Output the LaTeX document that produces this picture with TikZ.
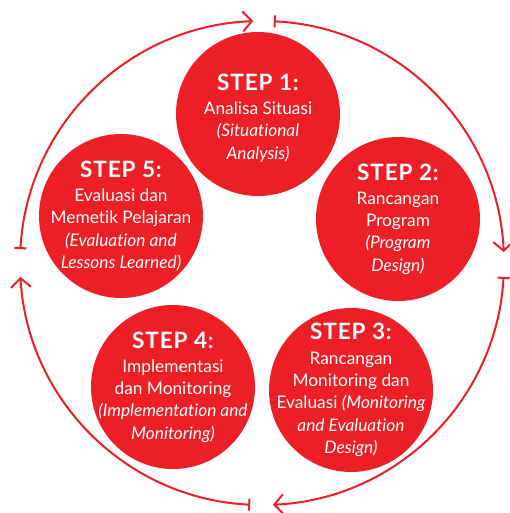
\documentclass[tikz,border=0pt]{standalone}
\usepackage{fontspec}
\setmainfont{Lato}[Ligatures=NoCommon]
\newfontfamily\headfont{Lato}[LetterSpace=4]
\usetikzlibrary{arrows.meta}
\definecolor{stepred}{RGB}{236,30,38}
\newcommand{\stephd}[1]{{\headfont\fontsize{22.5}{26}\selectfont\bfseries #1}\\[2pt]}
\begin{document}
\begin{tikzpicture}[x=1pt,y=-1pt,
  stepcircle/.style={circle,fill=stepred,minimum size=164pt,inner sep=0pt},
  steptext/.style={text=white,align=center,inner sep=0pt,font=\fontsize{17.3}{22.3}\selectfont},
  ring/.style={draw=stepred,line width=2pt,{Bar[width=12pt,line width=2pt]}-{Straight Barb[length=9pt,width=20pt,line width=2pt]}}]
\useasboundingbox (0,0) rectangle (510,513);
\coordinate (O) at (262,263);
\node[stepcircle,label={[steptext,yshift=-4pt]center:{\stephd{STEP 1:}Analisa Situasi\\\itshape(Situational\\\itshape Analysis)}}] (s1) at (258,114) {};
\node[stepcircle,label={[steptext]center:{\stephd{STEP 2:}Rancangan\\Program\\\itshape(Program\\\itshape Design)}}] (s2) at (398,219) {};
\node[stepcircle,label={[steptext]center:{\stephd{STEP 3:}Rancangan\\Monitoring dan\\Evaluasi \itshape(Monitoring\\\itshape and Evaluation\\\itshape Design)}}] (s3) at (351,390) {};
\node[stepcircle,label={[steptext]center:{\stephd{STEP 4:}Implementasi\\dan Monitoring\\\itshape(Implementation and\\\itshape Monitoring)}}] (s4) at (173,387) {};
\node[stepcircle,label={[steptext]center:{\stephd{STEP 5:}Evaluasi dan\\Memetik Pelajaran\\\itshape(Evaluation and\\\itshape Lessons Learned)}}] (s5) at (121,216) {};
\draw[ring] (O) ++(87.2:242pt) arc[start angle=87.2,end angle=2.6,radius=242pt];
\draw[ring] (O) ++(-3.3:242pt) arc[start angle=-3.3,end angle=-87.4,radius=242pt];
\draw[ring] (O) ++(-92.8:242pt) arc[start angle=-92.8,end angle=-176.7,radius=242pt];
\draw[ring] (O) ++(176.7:242pt) arc[start angle=176.7,end angle=92.1,radius=242pt];
\end{tikzpicture}
\end{document}
